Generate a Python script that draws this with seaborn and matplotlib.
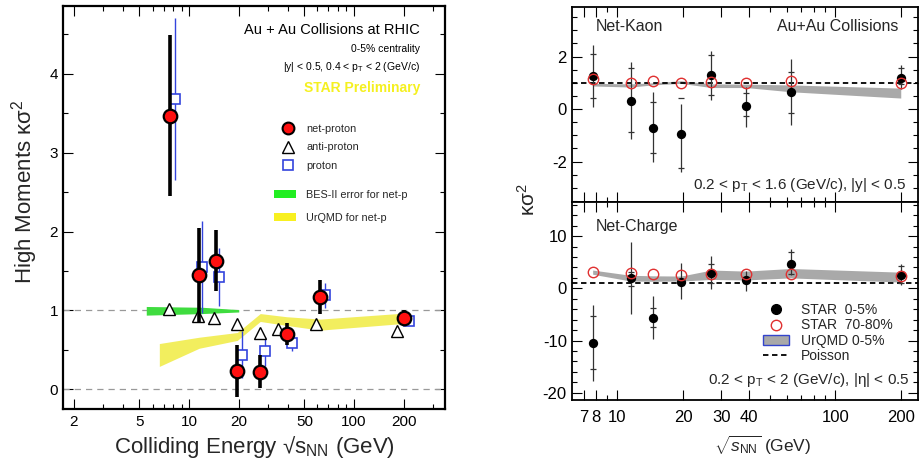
import numpy as np
import pandas as pd
import matplotlib
matplotlib.use("Agg")
import matplotlib.pyplot as plt
import matplotlib.ticker as mticker
from matplotlib.patches import Patch
from matplotlib.lines import Line2D
import seaborn as sns

# ---------------- data: left panel (net-proton kappa*sigma^2) ----------------
np_x = [7.7, 11.5, 14.5, 19.6, 27.0, 39.0, 62.4, 200.0]
np_val = [3.47, 1.45, 1.63, 0.23, 0.22, 0.70, 1.17, 0.91]
np_err = [1.02, 0.60, 0.39, 0.33, 0.21, 0.14, 0.22, 0.10]

ap_x = [7.6, 11.4, 14.1, 19.4, 26.8, 34.6, 58.9, 181.0]
ap_val = [1.02, 0.93, 0.90, 0.83, 0.72, 0.77, 0.83, 0.74]

p_x = [8.2, 11.9, 15.1, 20.9, 29.0, 41.9, 66.7, 214.0]
p_val = [3.68, 1.55, 1.42, 0.44, 0.48, 0.59, 1.19, 0.86]
p_err = [1.03, 0.58, 0.37, 0.30, 0.18, 0.10, 0.16, 0.05]

bes_x = [5.5, 12.0, 20.0]
bes_lo = [0.94, 0.96, 0.98]
bes_hi = [1.05, 1.04, 1.01]

urqmd_p_x = [6.6, 11.5, 19.6, 27.0, 39.0, 62.4, 215.0]
urqmd_p_lo = [0.29, 0.52, 0.62, 0.86, 0.81, 0.75, 0.84]
urqmd_p_hi = [0.58, 0.66, 0.72, 0.96, 0.92, 0.89, 0.97]

left_xticks = [2, 5, 10, 20, 50, 100, 200]

# ---------------- data: right panels ----------------
energy = [7.7, 11.5, 14.5, 19.6, 27.0, 39.0, 62.4, 200.0]

nk_val = [1.25, 0.32, -0.71, -0.95, 1.30, 0.13, 0.64, 1.20]
nk_stat_hi = [2.45, 1.79, 0.66, 0.19, 2.23, 0.85, 1.91, 1.68]
nk_stat_lo = [0.07, -1.15, -2.03, -2.40, 0.35, -0.67, -0.60, 0.78]
nk_sys_hi = [2.10, 1.56, 0.28, 0.41, 2.06, 0.60, 1.43, 1.55]
nk_sys_lo = [0.41, -0.86, -1.69, -2.26, 0.54, -0.25, -0.14, 0.95]
nk_per = [1.13, 0.98, 1.06, 1.00, 1.04, 1.01, 1.07, 0.99]
nk_band_lo = [0.88, 0.84, 0.92, 0.98, 0.82, 0.82, 0.66, 0.42]
nk_band_hi = [0.98, 0.96, 1.00, 1.08, 0.96, 0.95, 0.92, 0.80]

nc_val = [-10.4, 2.0, -5.6, 1.2, 2.9, 1.6, 4.7, 2.5]
nc_stat_hi = [-3.1, 8.9, -1.5, 4.9, 6.1, 3.4, 7.5, 4.6]
nc_stat_lo = [-17.7, -5.0, -9.8, -2.0, -0.1, -0.5, 2.5, 0.6]
nc_sys_hi = [-5.3, 3.2, -3.7, 1.7, 4.7, 2.2, 7.0, 4.2]
nc_sys_lo = [-15.4, 0.5, -7.4, 0.7, 1.0, 1.0, 2.8, 1.0]
nc_per = [3.1, 2.9, 2.7, 2.5, 2.8, 2.8, 2.8, 2.3]
nc_band_lo = [2.7, 1.4, 1.35, 1.4, 1.7, 1.6, 2.0, 1.2]
nc_band_hi = [3.5, 2.5, 2.4, 2.35, 3.5, 3.3, 3.8, 3.1]

right_xticks = [7, 8, 10, 20, 30, 40, 100, 200]
poisson = 1.0

# ---------------- style ----------------
sns.set_theme(style="ticks")
plt.rcParams['font.family'] = ['Liberation Sans', 'DejaVu Sans']
plt.rcParams['mathtext.fontset'] = 'custom'
plt.rcParams['mathtext.rm'] = 'Liberation Sans'
plt.rcParams['mathtext.it'] = 'Liberation Sans:italic'
plt.rcParams['mathtext.bf'] = 'Liberation Sans:bold'
plt.rcParams['axes.unicode_minus'] = False
plt.rcParams['axes.linewidth'] = 1.6
plt.rcParams['axes.edgecolor'] = 'black'

fig = plt.figure(figsize=(9.19, 4.71), dpi=100)
W, H = 919.0, 471.0


def axes_px(x0, y0, x1, y1):
    return fig.add_axes([x0 / W, 1 - y1 / H, (x1 - x0) / W, (y1 - y0) / H])


def style_ticks(ax, labelsize):
    ax.tick_params(which='both', direction='in', top=True, right=True,
                   labelsize=labelsize, colors='black', width=0.8)
    ax.tick_params(which='major', length=7)
    ax.tick_params(which='minor', length=3.5)


# ================= LEFT PANEL =================
axL = axes_px(63, 6, 445, 409)
axL.set_xscale('log')
axL.set_xlim(1.72, 356)
axL.set_ylim(-0.25, 4.86)

axL.axhline(1.0, color='#999999', lw=0.9, ls=(0, (5, 4)), zorder=1)
axL.axhline(0.0, color='#999999', lw=0.9, ls=(0, (5, 4)), zorder=1)

axL.fill_between(bes_x, bes_lo, bes_hi, color='#3fdc3f', lw=0, zorder=2)
axL.fill_between(urqmd_p_x, urqmd_p_lo, urqmd_p_hi, color='#f2ee5e', lw=0, zorder=2)

# proton (blue squares)
axL.errorbar(p_x, p_val, yerr=p_err, fmt='none', ecolor='#3344dd', elinewidth=1.0, zorder=3)
axL.plot(p_x, p_val, ls='none', marker='s', ms=6.5, mfc='white', mec='#3344dd', mew=1.2, zorder=4)
# anti-proton (triangles)
axL.plot(ap_x, ap_val, ls='none', marker='^', ms=8, mfc='white', mec='black', mew=1.0, zorder=4)
# net-proton
axL.errorbar(np_x, np_val, yerr=np_err, fmt='none', ecolor='black', elinewidth=2.6, zorder=5)
sns.scatterplot(x=np_x, y=np_val, ax=axL, marker='o', s=95, color='#ff1010',
                edgecolor='black', linewidth=1.6, zorder=6)

axL.set_xticks(left_xticks)
axL.xaxis.set_major_formatter(mticker.FuncFormatter(lambda v, p: f"{v:g}"))
axL.xaxis.set_minor_locator(mticker.LogLocator(base=10, subs=np.arange(2, 10)))
axL.xaxis.set_minor_formatter(mticker.NullFormatter())
axL.set_yticks([0, 1, 2, 3, 4])
axL.yaxis.set_minor_locator(mticker.MultipleLocator(0.5))
style_ticks(axL, 11)
axL.tick_params(axis='x', pad=4)
for s in axL.spines.values():
    s.set_linewidth(1.6)

axL.set_xlabel(r"Colliding Energy √s$_{\mathrm{NN}}$ (GeV)", fontsize=16, labelpad=4)
axL.set_ylabel(r"High Moments κσ$^{2}$", fontsize=16)
axL.yaxis.set_label_coords(-0.06, 0.54)

tkw = dict(transform=axL.transAxes, ha='right', va='center', color='black')
axL.text(0.935, 0.940, "Au + Au Collisions at RHIC", fontsize=10.5, **tkw)
axL.text(0.935, 0.893, "0-5% centrality", fontsize=7.5, **tkw)
axL.text(0.935, 0.849, r"|y| < 0.5, 0.4 < p$_{\mathrm{T}}$ < 2 (GeV/c)", fontsize=7.5, **tkw)
axL.text(0.935, 0.797, "STAR Preliminary", fontsize=10, fontweight='bold',
         transform=axL.transAxes, ha='right', va='center', color='#f5f020')

h1 = [Line2D([], [], ls='none', marker='o', ms=8.5, mfc='#ff1010', mec='black', mew=1.5),
      Line2D([], [], ls='none', marker='^', ms=8, mfc='white', mec='black', mew=1.0),
      Line2D([], [], ls='none', marker='s', ms=6.5, mfc='white', mec='#3344dd', mew=1.2)]
leg1 = axL.legend(h1, ["net-proton", "anti-proton", "proton"], loc='upper left',
                  bbox_to_anchor=(0.569, 0.708), frameon=False, fontsize=7.8,
                  handlelength=1.4, handletextpad=1.0, labelspacing=0.8,
                  borderpad=0, borderaxespad=0)
axL.add_artist(leg1)
h2 = [Patch(facecolor='#22ee22', edgecolor='none'), Patch(facecolor='#f8f020', edgecolor='none')]
axL.legend(h2, ["BES-II error for net-p", "UrQMD for net-p"], loc='upper left',
           bbox_to_anchor=(0.552, 0.543), frameon=False, fontsize=7.8,
           handlelength=2.0, handleheight=0.75, handletextpad=1.0, labelspacing=1.2,
           borderpad=0, borderaxespad=0)

# ================= RIGHT PANELS =================
axT = axes_px(571.7, 7, 918, 201.7)
axB = axes_px(571.7, 201.7, 918, 400)


def draw_panel(ax, val, shi, slo, yhi, ylo, per, blo, bhi):
    ax.fill_between(energy, blo, bhi, color='#a9a9a9', lw=0, zorder=1)
    ax.axhline(poisson, color='black', lw=1.3, ls=(0, (3, 2)), zorder=2)
    v = np.array(val)
    ax.errorbar(energy, val, yerr=[v - np.array(slo), np.array(shi) - v], fmt='none',
                ecolor='#333333', elinewidth=0.9, zorder=3)
    ax.errorbar(energy, val, yerr=[v - np.array(ylo), np.array(yhi) - v], fmt='none',
                ecolor='#333333', elinewidth=0, capsize=2.5, capthick=0.9, zorder=3)
    sns.scatterplot(x=energy, y=val, ax=ax, marker='o', s=45, color='black',
                    edgecolor='black', linewidth=0, zorder=4)
    ax.plot(energy, per, ls='none', marker='o', ms=7.5, mfc='none', mec='#e03030',
            mew=1.0, zorder=5)
    ax.set_xscale('log')
    ax.set_xlim(6.17, 240)
    ax.set_xticks(right_xticks)
    ax.xaxis.set_major_formatter(mticker.FuncFormatter(lambda v, p: f"{v:g}"))
    ax.xaxis.set_minor_locator(mticker.LogLocator(base=10, subs=np.arange(2, 10)))
    ax.xaxis.set_minor_formatter(mticker.NullFormatter())
    style_ticks(ax, 12)
    for s in ax.spines.values():
        s.set_linewidth(1.3)


draw_panel(axT, nk_val, nk_stat_hi, nk_stat_lo, nk_sys_hi, nk_sys_lo, nk_per, nk_band_lo, nk_band_hi)
axT.set_ylim(-3.53, 3.89)
axT.set_yticks([-2, 0, 2])
axT.yaxis.set_minor_locator(mticker.MultipleLocator(0.5))
axT.tick_params(axis='x', labelbottom=False)

draw_panel(axB, nc_val, nc_stat_hi, nc_stat_lo, nc_sys_hi, nc_sys_lo, nc_per, nc_band_lo, nc_band_hi)
axB.set_ylim(-21.4, 16.6)
axB.set_yticks([-20, -10, 0, 10])
axB.yaxis.set_minor_locator(mticker.MultipleLocator(2))
axB.tick_params(axis='x', pad=7)

axT.text(0.070, 0.902, "Net-Kaon", transform=axT.transAxes, fontsize=11.5, ha='left', va='center')
axT.text(0.942, 0.902, "Au+Au Collisions", transform=axT.transAxes, fontsize=11.5, ha='right', va='center')
axT.text(0.967, 0.086, r"0.2 < p$_{\mathrm{T}}$ < 1.6 (GeV/c), |y| < 0.5", transform=axT.transAxes,
         fontsize=11, ha='right', va='center')
axB.text(0.070, 0.874, "Net-Charge", transform=axB.transAxes, fontsize=11.5, ha='left', va='center')
axB.text(0.977, 0.101, r"0.2 < p$_{\mathrm{T}}$ < 2 (GeV/c), |η| < 0.5", transform=axB.transAxes,
         fontsize=11, ha='right', va='center')

h3 = [Line2D([], [], ls='none', marker='o', ms=7, mfc='black', mec='black'),
      Line2D([], [], ls='none', marker='o', ms=7.5, mfc='none', mec='#e03030', mew=1.0),
      Patch(facecolor='#a9a9a9', edgecolor='#3344cc', lw=1.0),
      Line2D([], [], color='black', lw=1.3, ls=(0, (3, 2)))]
axB.legend(h3, ["STAR  0-5%", "STAR  70-80%", "UrQMD 0-5%", "Poisson"], loc='upper left',
           bbox_to_anchor=(0.552, 0.489), frameon=False, fontsize=10,
           handlelength=1.87, handleheight=0.7, handletextpad=0.86, labelspacing=0.1,
           borderpad=0, borderaxespad=0)

fig.text(528 / W, 1 - 200 / H, r"κσ$^{2}$", rotation=90, fontsize=15, ha='center', va='center')
fig.text(763 / W, 1 - 445 / H, r"$\sqrt{s_{\mathrm{NN}}}$ (GeV)", fontsize=12.5, ha='center', va='center')

fig.savefig("out.png", dpi=100)
